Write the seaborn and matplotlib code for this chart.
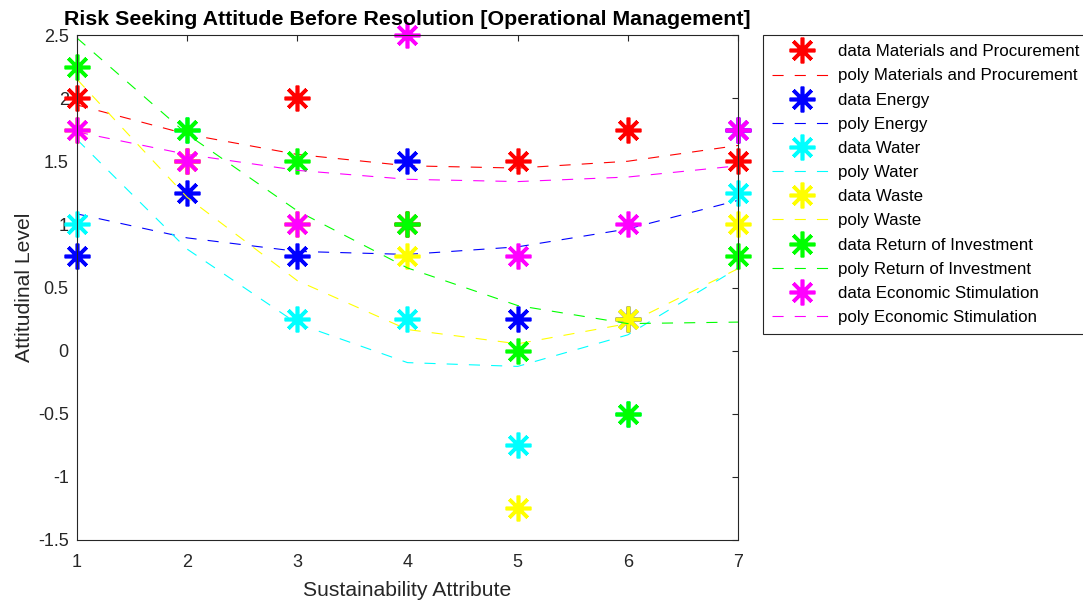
import numpy as np
import pandas as pd
import matplotlib
matplotlib.use("Agg")
import matplotlib.pyplot as plt
import seaborn as sns
from matplotlib.ticker import FuncFormatter, MultipleLocator

# ----------------------------------------------------------------------------
# Data
# ----------------------------------------------------------------------------
attributes = [1, 2, 3, 4, 5, 6, 7]

series_names = [
    "Materials and Procurement",
    "Energy",
    "Water",
    "Waste",
    "Return of Investment",
    "Economic Stimulation",
]

materials_data = [2.0, 1.5, 2.0, 1.0, 1.5, 1.75, 1.5]
energy_data = [0.75, 1.25, 0.75, 1.5, 0.25, 0.25, 1.75]
water_data = [1.0, 1.75, 0.25, 0.25, -0.75, -0.5, 1.25]
waste_data = [1.75, 1.5, 1.0, 0.75, -1.25, 0.25, 1.0]
roi_data = [2.25, 1.75, 1.5, 1.0, 0.0, -0.5, 0.75]
econ_data = [1.75, 1.5, 1.0, 2.5, 0.75, 1.0, 1.75]

# quadratic trend lines, values at each attribute
materials_poly = [1.946, 1.714, 1.554, 1.464, 1.446, 1.500, 1.625]
energy_poly = [1.083, 0.893, 0.786, 0.762, 0.822, 0.964, 1.190]
water_poly = [1.672, 0.804, 0.214, -0.095, -0.125, 0.125, 0.654]
waste_poly = [2.149, 1.214, 0.554, 0.167, 0.054, 0.214, 0.649]
roi_poly = [2.476, 1.714, 1.107, 0.655, 0.357, 0.214, 0.226]
econ_poly = [1.732, 1.554, 1.428, 1.357, 1.339, 1.375, 1.464]

series_colors = ["#FF0000", "#0000FF", "#00FFFF", "#FFFF00", "#00FF00", "#FF00FF"]

data_values = [materials_data, energy_data, water_data, waste_data, roi_data, econ_data]
poly_values = [materials_poly, energy_poly, water_poly, waste_poly, roi_poly, econ_poly]

# ----------------------------------------------------------------------------
# Style
# ----------------------------------------------------------------------------
sns.set_style("white")
plt.rcParams["font.family"] = ["Liberation Sans", "DejaVu Sans"]
TEXT_COLOR = "#262626"

ASTERISK = (8, 2, 0)  # 8-spoke asterisk, like MATLAB's '*'

fig = plt.figure(figsize=(10.83, 6.01), dpi=100)
ax = fig.add_axes([77 / 1083, 1 - 540 / 601, (738 - 77) / 1083, (540 - 35) / 601])

for name, color, ys, ps in zip(series_names, series_colors, data_values, poly_values):
    df = pd.DataFrame({"x": attributes, "data": ys, "poly": ps})
    sns.lineplot(data=df, x="x", y="data", ax=ax, estimator=None, sort=False,
                 color=color, linestyle="", marker=ASTERISK, markersize=18.5,
                 markeredgewidth=2.6, markeredgecolor=color, clip_on=False,
                 label=f"data {name}")
    sns.lineplot(data=df, x="x", y="poly", ax=ax, estimator=None, sort=False,
                 color=color, linewidth=0.8, dashes=(10, 10),
                 label=f"poly {name}")

ax.set_xlim(1, 7)
ax.set_ylim(-1.5, 2.5)
ax.xaxis.set_major_locator(MultipleLocator(1))
ax.yaxis.set_major_locator(MultipleLocator(0.5))
ax.yaxis.set_major_formatter(FuncFormatter(lambda v, _: f"{v:g}"))
ax.xaxis.set_major_formatter(FuncFormatter(lambda v, _: f"{v:g}"))

for spine in ax.spines.values():
    spine.set_visible(True)
    spine.set_color(TEXT_COLOR)
    spine.set_linewidth(0.8)

ax.tick_params(axis="both", direction="in", length=4.5, width=0.8,
               colors=TEXT_COLOR, labelsize=13, top=True, right=True)
ax.tick_params(axis="x", pad=10)
ax.tick_params(axis="y", pad=6)

ax.set_xlabel("Sustainability Attribute", fontsize=15.2, color=TEXT_COLOR, labelpad=7)
ax.set_ylabel("Attitudinal Level", fontsize=15.2, color=TEXT_COLOR, labelpad=3)
ax.set_title("Risk Seeking Attitude Before Resolution [Operational Management]",
             fontsize=15.4, fontweight="bold", color="black", pad=7)

leg = ax.legend(loc="upper left", bbox_to_anchor=(763 / 1083, 1 - 35 / 601),
                bbox_transform=fig.transFigure, fontsize=12.2, frameon=True,
                fancybox=False, framealpha=1, edgecolor=TEXT_COLOR,
                handlelength=3.45, handletextpad=0.45, labelspacing=0.54,
                borderpad=0.55, borderaxespad=0, numpoints=1)
leg.get_frame().set_linewidth(0.8)
for text in leg.get_texts():
    text.set_color("black")

fig.savefig("out.png", dpi=100)
